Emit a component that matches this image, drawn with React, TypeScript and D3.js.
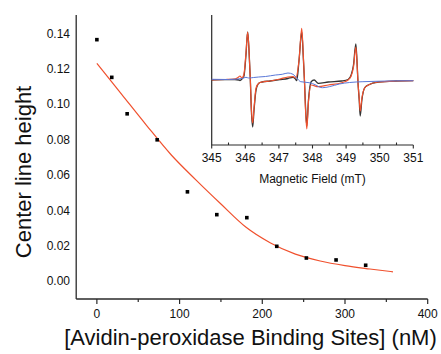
import React from "react";
import * as d3 from "d3";

// Main plot data
const bindingSites = [0, 18, 36.6, 72.9, 109.5, 145, 181.3, 217.5, 253.3, 289.2, 325];
const centerHeight = [0.1364, 0.1151, 0.0945, 0.0798, 0.0504, 0.0375, 0.0358, 0.0196, 0.013, 0.0119, 0.0089];

// Fit curve samples
const fitX = [0, 30, 60, 90, 120, 150, 180, 210, 240, 270, 300, 330, 358];
const fitY = [0.123, 0.1055, 0.088, 0.0712, 0.057, 0.0435, 0.0305, 0.0215, 0.0152, 0.0113, 0.0087, 0.0068, 0.0052];

const xTicks = [0, 100, 200, 300, 400];
const xMinorTicks = [50, 150, 250, 350];
const yTicks = [0, 0.02, 0.04, 0.06, 0.08, 0.1, 0.12, 0.14];

// Inset EPR spectra (field mT, amplitude arb.)
const fieldBlack = [345.0, 345.4, 345.69, 345.81, 345.84, 345.9, 345.96, 346.02, 346.07, 346.11, 346.15, 346.18, 346.22, 346.26, 346.32, 346.41, 346.5, 346.74, 347.03, 347.27, 347.42, 347.48, 347.53, 347.6, 347.68, 347.73, 347.76, 347.79, 347.83, 347.88, 347.96, 348.05, 348.17, 348.47, 348.87, 349.06, 349.15, 349.22, 349.29, 349.33, 349.35, 349.39, 349.42, 349.47, 349.55, 349.66, 349.96, 350.46, 351.0];
const ampBlack = [0, 0.3, 0.5, 0, -0.5, 1, 4, 25, 48, 30, 0, -30, -47, -30, -10, -3, -2, -1, 0.3, 1.5, 2.7, 1.5, -0.7, 20, 48, 20, 0, -25, -46, -20, -1.7, 0, -3.3, -2, -1, 0.5, 5, 15, 36, 15, 0, -20, -36, -20, -8, -5, -2, -1, -0.7];

const fieldRed = [345.0, 345.4, 345.69, 345.8, 345.84, 345.9, 345.96, 346.02, 346.07, 346.11, 346.15, 346.18, 346.22, 346.26, 346.32, 346.41, 346.5, 346.74, 347.03, 347.27, 347.42, 347.5, 347.6, 347.68, 347.73, 347.76, 347.79, 347.83, 347.88, 347.96, 348.17, 348.47, 348.87, 349.06, 349.15, 349.22, 349.29, 349.33, 349.35, 349.39, 349.42, 349.47, 349.55, 349.66, 349.96, 350.46, 351.0];
const ampRed = [0, 0.5, 1, 3, 4, 2, 6, 27, 48, 30, 0, -28, -43, -28, -8, -3, -2, -1, 1, 3, 3.3, 2, 20, 51.7, 22, 0, -28, -49, -22, -5, -6.7, -5, -2.7, 0, 4, 13, 33, 14, 0, -18, -31, -18, -8, -5, -2, -1, -0.7];

const fieldBlue = [345.0, 345.5, 345.9, 346.02, 346.1, 346.25, 346.4, 346.6, 346.9, 347.1, 347.27, 347.42, 347.53, 347.65, 347.9, 348.1, 348.2, 348.3, 348.5, 348.8, 349.1, 349.5, 350.0, 350.5, 351.0];
const ampBlue = [0.7, 0.5, 1.5, 2.7, 2, 2.5, 3, 3.5, 5, 5.7, 7, 5.7, 2, -1.7, -2.7, -5, -7, -7.7, -6.7, -4, -2.5, -1.7, -1.2, -0.8, -0.7];

const insetTicks = [345, 346, 347, 348, 349, 350, 351];
const insetMinor = [345.5, 346.5, 347.5, 348.5, 349.5, 350.5];

const FONT = "'Liberation Sans', Arial, Helvetica, sans-serif";
const AXIS = "#2a2a2a";
const RED = "#f0502d";

export default function App() {
  const x = d3.scaleLinear().domain([-25, 400]).range([76.2, 427.7]);
  const y = d3.scaleLinear().domain([-0.01, 0.15]).range([298.7, 15.6]);

  const fitLine = d3
    .line<number>()
    .x((_, i) => x(fitX[i]))
    .y((d) => y(d))
    .curve(d3.curveMonotoneX)(fitY) as string;

  const ix = d3.scaleLinear().domain([345, 351]).range([211.7, 413.3]);
  const iy = d3.scaleLinear().domain([-65, 65]).range([145, 15]);
  const spec = (fx: number[], a: number[]) =>
    d3
      .line<number>()
      .x((_, i) => ix(fx[i]))
      .y((d) => iy(d))
      .curve(d3.curveMonotoneX)(a) as string;

  const xAxisY = 299;
  const yAxisX = 76.2;

  return (
    <svg
      width={441}
      height={354}
      style={{ position: "absolute", left: 0, top: 0, background: "#fff" }}
      fontFamily={FONT}
    >
      {/* Main axes */}
      <line x1={yAxisX} x2={yAxisX} y1={15} y2={xAxisY} stroke={AXIS} strokeWidth={1.3} />
      <line x1={yAxisX} x2={427.7} y1={xAxisY} y2={xAxisY} stroke={AXIS} strokeWidth={1.3} />
      {xTicks.map((t) => (
        <g key={"xt" + t}>
          <line x1={x(t)} x2={x(t)} y1={xAxisY} y2={xAxisY + 5} stroke={AXIS} strokeWidth={1.2} />
          <text x={x(t)} y={318} textAnchor="middle" fontSize={12} fill="#111">
            {t}
          </text>
        </g>
      ))}
      {xMinorTicks.map((t) => (
        <line key={"xm" + t} x1={x(t)} x2={x(t)} y1={xAxisY} y2={xAxisY + 3} stroke={AXIS} strokeWidth={1.2} />
      ))}
      {yTicks.map((t) => (
        <text key={"yt" + t} x={70} y={y(t)} dy="0.36em" textAnchor="end" fontSize={12} fill="#111">
          {d3.format(".2f")(t)}
        </text>
      ))}
      <text
        transform={`translate(31,172) rotate(-90)`}
        textAnchor="middle"
        fontSize={22}
        fill="#111"
      >
        Center line height
      </text>
      <text x={250.5} y={345} textAnchor="middle" fontSize={22} fill="#111">
        [Avidin-peroxidase Binding Sites] (nM)
      </text>

      {/* Fit curve */}
      <path d={fitLine} fill="none" stroke={RED} strokeWidth={1.2} />

      {/* Data points */}
      {bindingSites.map((b, i) => (
        <rect key={"p" + i} x={x(b) - 1.8} y={y(centerHeight[i]) - 1.8} width={3.6} height={3.6} fill="#000" />
      ))}

      {/* Inset */}
      <line x1={211.7} x2={211.7} y1={15} y2={145} stroke={AXIS} strokeWidth={1.2} />
      <line x1={211.7} x2={413.3} y1={145} y2={145} stroke={AXIS} strokeWidth={1.2} />
      {insetTicks.map((t) => (
        <g key={"it" + t}>
          <line x1={ix(t)} x2={ix(t)} y1={145} y2={148.5} stroke={AXIS} strokeWidth={1.1} />
          <text x={ix(t)} y={161.5} textAnchor="middle" fontSize={12} fill="#111">
            {t}
          </text>
        </g>
      ))}
      {insetMinor.map((t) => (
        <line key={"im" + t} x1={ix(t)} x2={ix(t)} y1={145} y2={142.5} stroke={AXIS} strokeWidth={1.1} />
      ))}
      <text x={312.5} y={183} textAnchor="middle" fontSize={12} fill="#111">
        Magnetic Field (mT)
      </text>
      <path d={spec(fieldBlack, ampBlack)} fill="none" stroke="#333" strokeWidth={1.3} />
      <path d={spec(fieldRed, ampRed)} fill="none" stroke={RED} strokeWidth={1.2} />
      <path d={spec(fieldBlue, ampBlue)} fill="none" stroke="#5a78d8" strokeWidth={1} />
    </svg>
  );
}
